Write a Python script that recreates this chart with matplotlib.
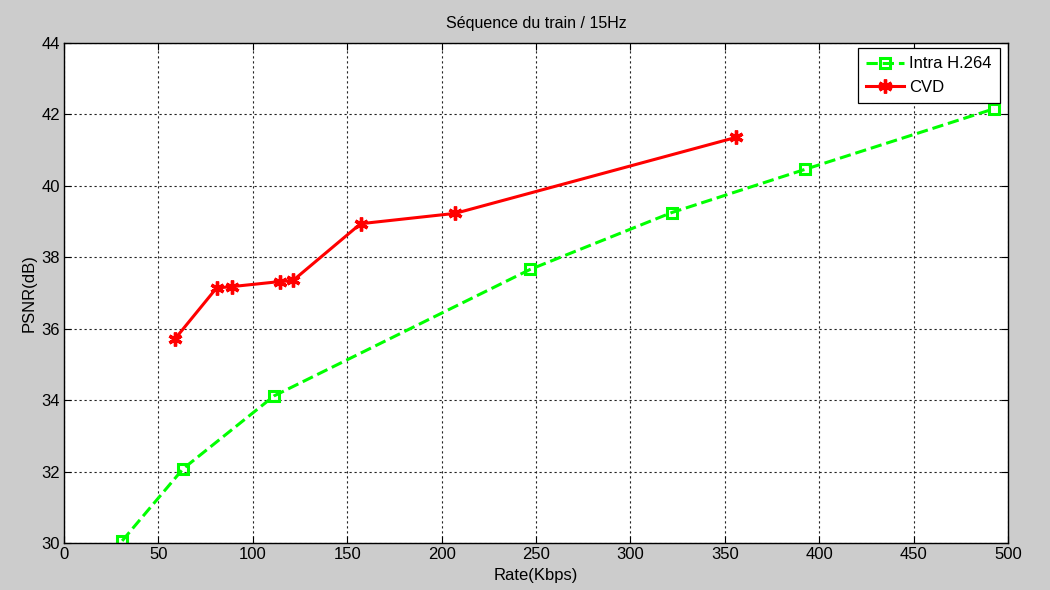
import matplotlib
matplotlib.use("Agg")
import matplotlib.pyplot as plt
from matplotlib.ticker import MultipleLocator

plt.rcParams["font.family"] = ["Liberation Sans", "DejaVu Sans"]
plt.rcParams["font.size"] = 11.5

# values
rate_h264 = [30.8, 63.1, 111.3, 246.9, 321.8, 392.4, 492.7]
psnr_h264 = [30.06, 32.08, 34.12, 37.66, 39.25, 40.46, 42.16]
rate_cvd = [58.7, 80.8, 89.1, 114.3, 121.3, 157.1, 207.2, 356.1]
psnr_cvd = [35.71, 37.14, 37.18, 37.32, 37.35, 38.94, 39.23, 41.36]

fig = plt.figure(figsize=(10.5, 5.9), dpi=100, facecolor="#cccccc")
ax = fig.add_axes([64 / 1050, 1 - 543 / 590, 944 / 1050, 500 / 590])
ax.set_facecolor("white")

ax.plot(rate_h264, psnr_h264, color="#00ff00", linestyle="--", linewidth=2.2,
        marker="s", markersize=6.5, markerfacecolor="none",
        markeredgecolor="#00ff00", markeredgewidth=2.2, label="Intra H.264")
ax.plot(rate_cvd, psnr_cvd, color="#ff0000", linestyle="-", linewidth=2.2,
        marker=(6, 2, 0), markersize=10, markeredgecolor="#ff0000",
        markeredgewidth=2.4, label="CVD")

ax.set_xlim(0, 500)
ax.set_ylim(30, 44)
ax.xaxis.set_major_locator(MultipleLocator(50))
ax.yaxis.set_major_locator(MultipleLocator(2))
ax.grid(True, color="#222222", linestyle=(0, (2, 2.5)), linewidth=0.8)
ax.tick_params(direction="in", length=5, width=0.8, top=True, right=True,
               labelsize=12, colors="black", pad=3)
for s in ax.spines.values():
    s.set_linewidth(1.0)

ax.set_xlabel("Rate(Kbps)", fontsize=12, labelpad=4)
ax.set_ylabel("PSNR(dB)", fontsize=12, labelpad=3)
ax.set_title("Séquence du train / 15Hz", fontsize=11.5, pad=11)

leg = ax.legend(loc="upper right", bbox_to_anchor=((1000 - 64) / 944, 0.99),
                borderaxespad=0, fancybox=False, edgecolor="black",
                framealpha=1, handlelength=2.3, borderpad=0.5,
                labelspacing=0.5, handletextpad=0.3, fontsize=12)
leg.get_frame().set_linewidth(0.9)

fig.savefig("out.png", facecolor=fig.get_facecolor())
